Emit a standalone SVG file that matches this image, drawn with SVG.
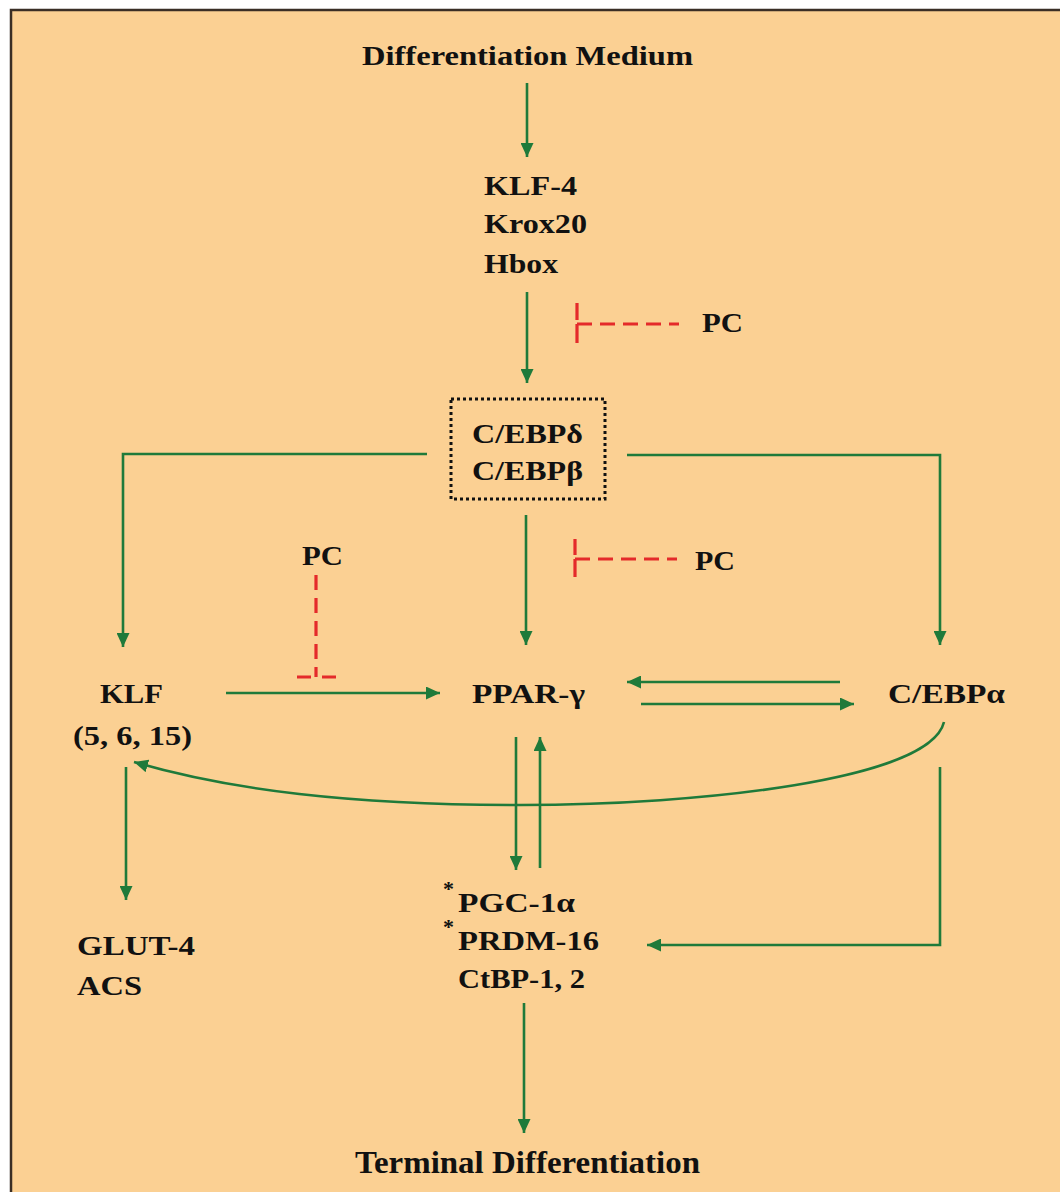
<svg xmlns="http://www.w3.org/2000/svg" width="1060" height="1192" viewBox="0 0 1060 1192">
<style>
.t{font-family:"Liberation Serif","Times New Roman",serif;font-weight:bold;font-size:27px;fill:#111}
.g{fill:none;stroke:#1f7a3a;stroke-width:2.6}
.r{fill:none;stroke:#e42a2a;stroke-width:3.2}
.rd{fill:none;stroke:#e42a2a;stroke-width:3.2;stroke-dasharray:15 8}
</style>
<defs>
<marker id="ah" markerUnits="userSpaceOnUse" markerWidth="15" markerHeight="13" refX="14" refY="6.5" orient="auto">
<path d="M0,0 L14,6.5 L0,13 z" fill="#1f7a3a"/>
</marker>
</defs>
<rect x="11" y="10" width="1070" height="1200" fill="#fbd093" stroke="#3a2e25" stroke-width="2.5"/>
<g id="connectors">
<line class="g" x1="527" y1="83" x2="527" y2="157" marker-end="url(#ah)"/>
<line class="g" x1="527" y1="292" x2="527" y2="383" marker-end="url(#ah)"/>
<polyline class="g" points="427,454 123,454 123,647" marker-end="url(#ah)"/>
<polyline class="g" points="627,455 940,455 940,645" marker-end="url(#ah)"/>
<line class="g" x1="526" y1="515" x2="526" y2="645" marker-end="url(#ah)"/>
<line class="g" x1="226" y1="693" x2="440" y2="693" marker-end="url(#ah)"/>
<line class="g" x1="840" y1="682" x2="627" y2="682" marker-end="url(#ah)"/>
<line class="g" x1="641" y1="704" x2="854" y2="704" marker-end="url(#ah)"/>
<path class="g" d="M944,722 C930,780 700,805 520,805 C350,805 230,790 134,762" marker-end="url(#ah)"/>
<line class="g" x1="516" y1="737" x2="516" y2="870" marker-end="url(#ah)"/>
<line class="g" x1="540" y1="868" x2="540" y2="737" marker-end="url(#ah)"/>
<polyline class="g" points="940,767 940,945 647,945" marker-end="url(#ah)"/>
<line class="g" x1="126" y1="767" x2="126" y2="900" marker-end="url(#ah)"/>
<line class="g" x1="524" y1="1003" x2="524" y2="1133" marker-end="url(#ah)"/>
<!-- PC inhibitors -->
<line class="r" x1="577" y1="303" x2="577" y2="343" stroke-dasharray="17 4 19"/>
<line class="rd" x1="577" y1="324" x2="679" y2="324" stroke-dasharray="15 8 15 8 15 8 15 10 2"/>
<line class="r" x1="575" y1="539" x2="575" y2="577" stroke-dasharray="16 4 18"/>
<line class="rd" x1="575" y1="559" x2="677" y2="559" stroke-dasharray="15 8 15 8 15 8 15 10 2"/>
<line class="rd" x1="316" y1="575" x2="316" y2="677" stroke-dasharray="3 10 15 10 15 8 15 10 16"/>
<line class="r" x1="297" y1="677" x2="336" y2="677" stroke-dasharray="14 11 14"/>
</g>
<g id="n-medium"><text class="t" x="362" y="65" textLength="331" lengthAdjust="spacingAndGlyphs">Differentiation Medium</text></g>
<g id="n-klf4">
<text class="t" x="484" y="195" textLength="93" lengthAdjust="spacingAndGlyphs">KLF-4</text>
<text class="t" x="484" y="233" textLength="103" lengthAdjust="spacingAndGlyphs">Krox20</text>
<text class="t" x="484" y="273" textLength="74" lengthAdjust="spacingAndGlyphs">Hbox</text>
</g>
<g id="n-pc1"><text class="t" x="702" y="332" textLength="41" lengthAdjust="spacingAndGlyphs">PC</text></g>
<g id="n-cebpdb">
<rect x="451" y="399" width="154" height="100" fill="none" stroke="#111" stroke-width="3" stroke-dasharray="3 3"/>
<text class="t" x="472" y="443" textLength="111" lengthAdjust="spacingAndGlyphs">C/EBPδ</text>
<text class="t" x="472" y="480" textLength="111" lengthAdjust="spacingAndGlyphs">C/EBPβ</text>
</g>
<g id="n-pc2"><text class="t" x="695" y="570" textLength="40" lengthAdjust="spacingAndGlyphs">PC</text></g>
<g id="n-pc3"><text class="t" x="302" y="565" textLength="41" lengthAdjust="spacingAndGlyphs">PC</text></g>
<g id="n-klf">
<text class="t" x="100" y="703" textLength="63" lengthAdjust="spacingAndGlyphs">KLF</text>
<text class="t" x="73" y="745" textLength="119" lengthAdjust="spacingAndGlyphs">(5, 6, 15)</text>
</g>
<g id="n-ppar"><text class="t" x="472" y="703" textLength="113" lengthAdjust="spacingAndGlyphs">PPAR-γ</text></g>
<g id="n-cebpa"><text class="t" x="888" y="703" textLength="117" lengthAdjust="spacingAndGlyphs">C/EBPα</text></g>
<g id="n-pgc">
<text class="t" x="443" y="896" style="font-size:22px">*</text>
<text class="t" x="458" y="912" textLength="117" lengthAdjust="spacingAndGlyphs">PGC-1α</text>
<text class="t" x="443" y="934" style="font-size:22px">*</text>
<text class="t" x="458" y="950" textLength="141" lengthAdjust="spacingAndGlyphs">PRDM-16</text>
<text class="t" x="458" y="988" textLength="127" lengthAdjust="spacingAndGlyphs">CtBP-1, 2</text>
</g>
<g id="n-glut">
<text class="t" x="77" y="955" textLength="118" lengthAdjust="spacingAndGlyphs">GLUT-4</text>
<text class="t" x="77" y="995" textLength="65" lengthAdjust="spacingAndGlyphs">ACS</text>
</g>
<g id="n-terminal"><text class="t" x="355" y="1173" textLength="345" lengthAdjust="spacingAndGlyphs" style="font-size:31px">Terminal Differentiation</text></g>
</svg>
